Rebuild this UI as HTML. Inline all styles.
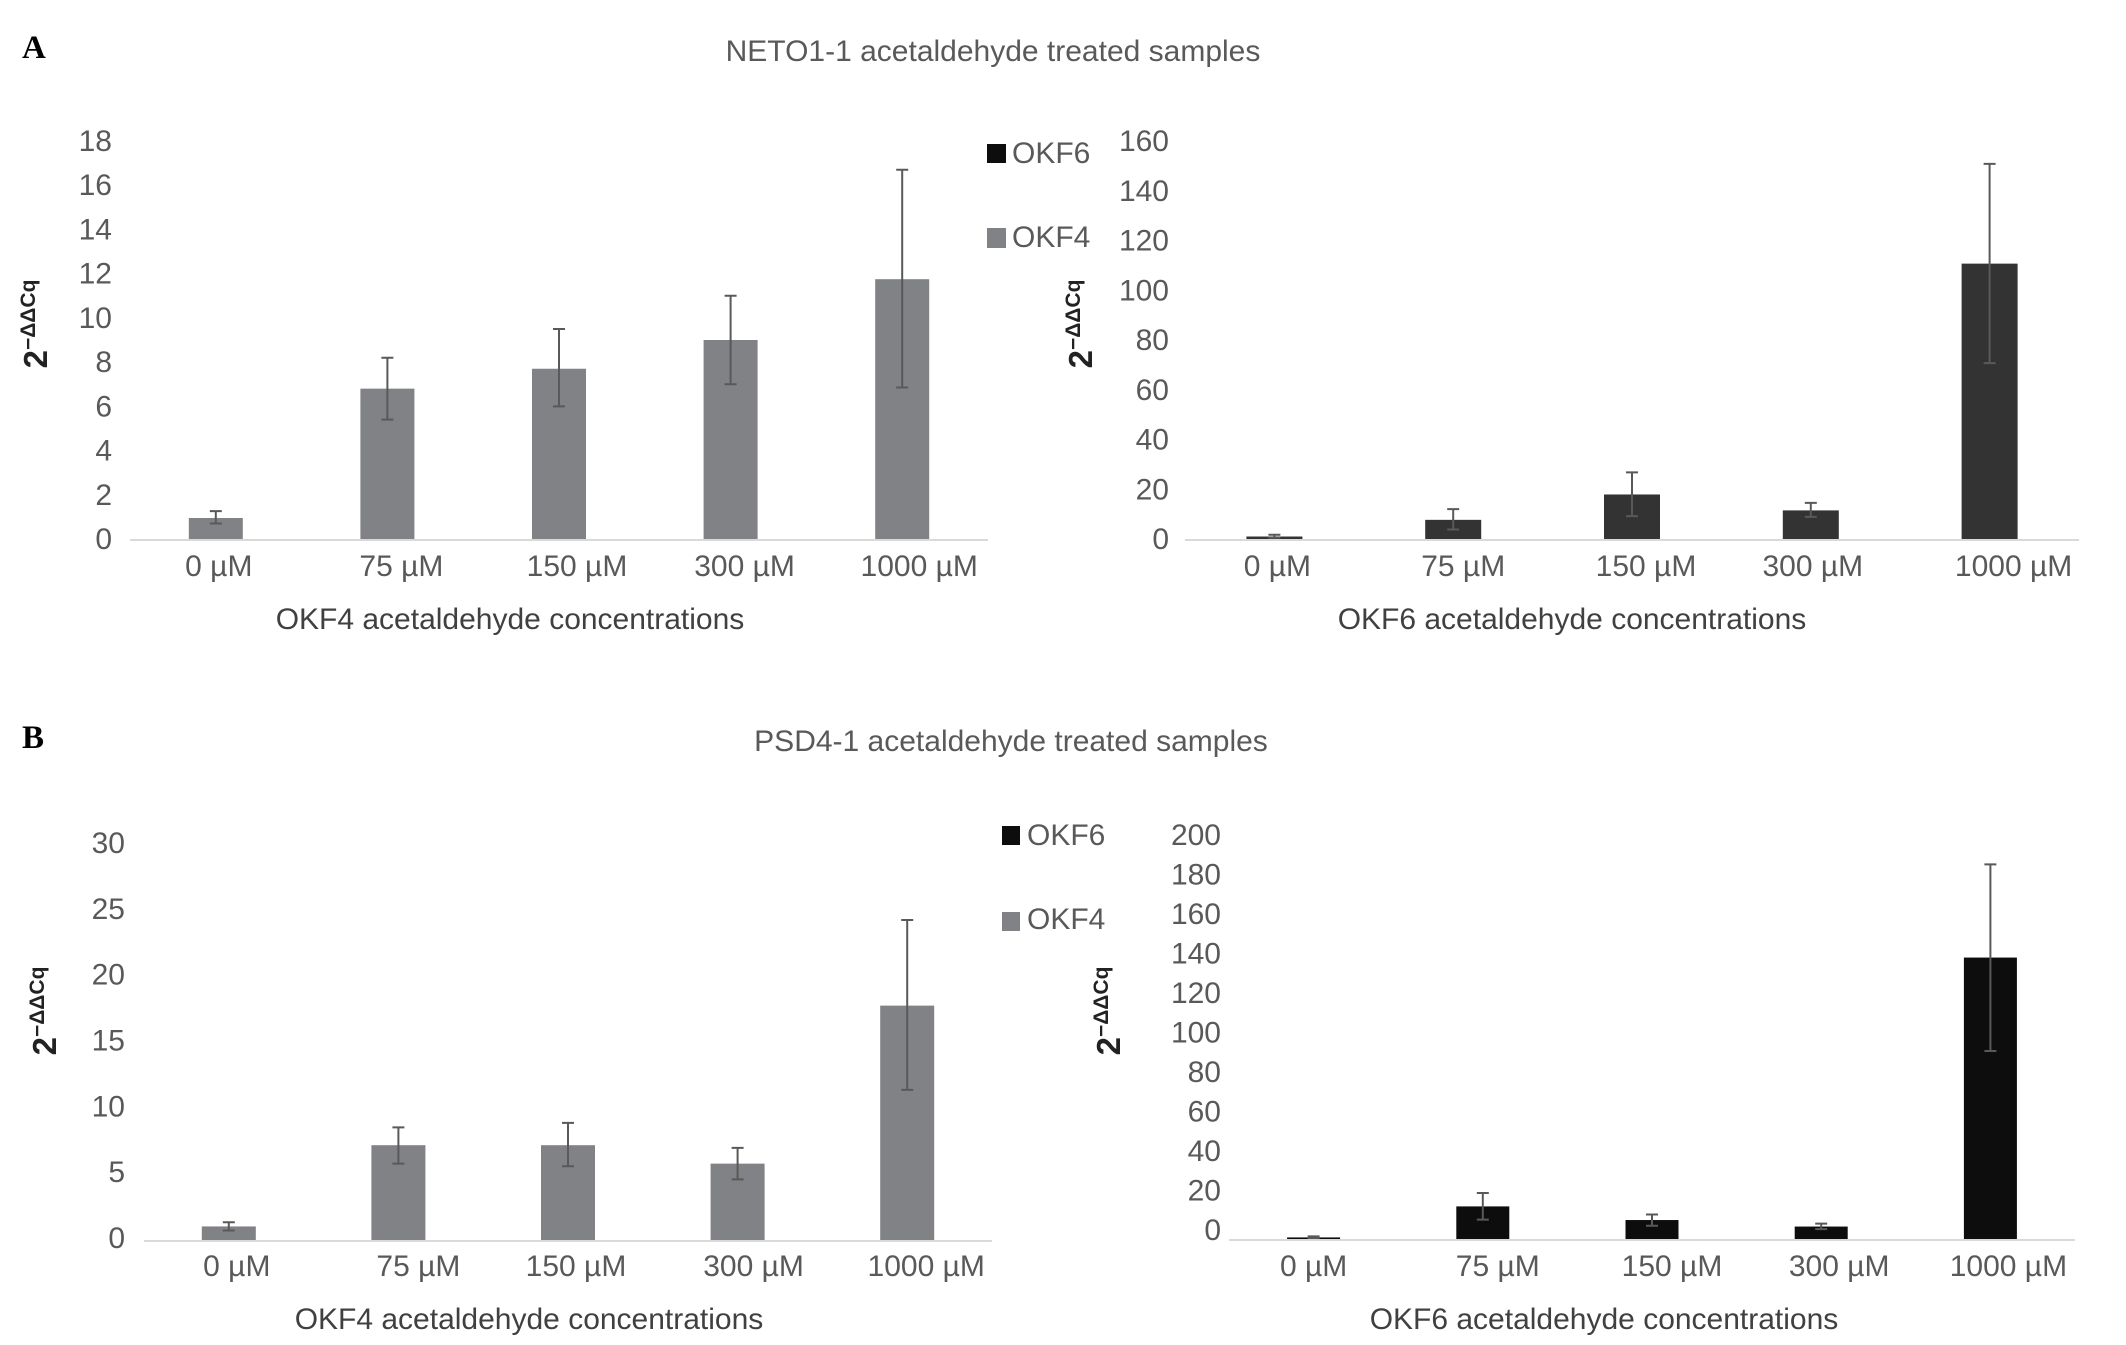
<!DOCTYPE html>
<html><head><meta charset="utf-8">
<style>
html,body{margin:0;padding:0;background:#fff;}
svg{display:block;font-family:"Liberation Sans",Arial,sans-serif;}
</style></head>
<body>
<svg id="fig" width="2126" height="1345" viewBox="0 0 2126 1345">
  <text x="22" y="58" font-family="Liberation Serif" font-weight="bold" font-size="33" fill="#000">A</text>
  <text x="993" y="61" text-anchor="middle" font-size="30" fill="#595959">NETO1-1 acetaldehyde treated samples</text>
  <text x="22" y="748" font-family="Liberation Serif" font-weight="bold" font-size="33" fill="#000">B</text>
  <text x="1011" y="761" text-anchor="middle" font-size="30" fill="#595959" transform="translate(0,-10)">PSD4-1 acetaldehyde treated samples</text>

  <g>
    <rect x="987" y="144" width="19" height="19" fill="#0d0d0d"/>
    <text x="1012" y="163" font-size="30" fill="#595959">OKF6</text>
    <rect x="987" y="228" width="19" height="20" fill="#808285"/>
    <text x="1012" y="247" font-size="30" fill="#595959">OKF4</text>
  </g>
  <g>
    <rect x="1002" y="826" width="18" height="19" fill="#0d0d0d"/>
    <text x="1027" y="845" font-size="30" fill="#595959">OKF6</text>
    <rect x="1002" y="912" width="18" height="19" fill="#808285"/>
    <text x="1027" y="929" font-size="30" fill="#595959">OKF4</text>
  </g>
</svg>
<script>
const categories = ["0 µM","75 µM","150 µM","300 µM","1000 µM"];

const aLeftValues = [0.95, 6.8, 7.7, 9.0, 11.75];
const aLeftErrHi  = [1.26, 8.2, 9.5, 11.0, 16.7];
const aLeftErrLo  = [0.7, 5.4, 6.0, 7.0, 6.85];
const aLeftTicks  = [0,2,4,6,8,10,12,14,16,18];

const aRightValues = [1.0, 7.7, 17.9, 11.5, 110.7];
const aRightErrHi  = [1.7, 12, 26.8, 14.5, 150.8];
const aRightErrLo  = [0.5, 3.8, 9.2, 8.9, 70.7];
const aRightTicks  = [0,20,40,60,80,100,120,140,160];

const bLeftValues = [1.03, 7.2, 7.2, 5.8, 17.8];
const bLeftErrHi  = [1.35, 8.55, 8.9, 7.0, 24.3];
const bLeftErrLo  = [0.72, 5.8, 5.6, 4.6, 11.4];
const bLeftTicks  = [0,5,10,15,20,25,30];

const bRightValues = [0.8, 16.5, 9.6, 6.3, 142.5];
const bRightErrHi  = [1.3, 23.3, 12.4, 7.8, 189.7];
const bRightErrLo  = [0.4, 9.8, 6.7, 5.0, 95.2];
const bRightTicks  = [0,20,40,60,80,100,120,140,160,180,200];

const NS = "http://www.w3.org/2000/svg";
const svg = document.getElementById("fig");
function mk(tag, attrs, parent){ const e=document.createElementNS(NS,tag); for(const k in attrs) e.setAttribute(k,attrs[k]); (parent||svg).appendChild(e); return e; }

function drawChart(cfg){
  const g = mk("g",{});
  
  
  const yScale = v => cfg.base - v / cfg.max * (cfg.base - cfg.top);
  const n = categories.length;
  const step = (cfg.x1 - cfg.x0) / n;
  const xScale = i => cfg.x0 + step * (i + 0.5);
  cfg.ticks.forEach(t=>{
    const tx = mk("text",{x:cfg.labelRight, y:yScale(t)+10+cfg.labelOff, "text-anchor":"end", "font-size":30, fill:"#595959"}, g);
    tx.textContent = t;
    
    
  });
  cfg.values.forEach((v,i)=>{
    const cx = xScale(i);
    const r = mk("rect",{x:cx-cfg.bw/2, y:yScale(v), width:cfg.bw, height:cfg.base-yScale(v), fill:cfg.color}, g);
    
    
    const hi = yScale(cfg.hi[i]), lo = yScale(cfg.lo[i]);
    const e = mk("path",{d:`M${cx},${hi}V${lo}M${cx-6},${hi}H${cx+6}M${cx-6},${lo}H${cx+6}`, stroke:"#595959", "stroke-width":2, fill:"none"}, g);
    
    
    const lb = mk("text",{x:cx + cfg.labelDx[i], y:cfg.catY+10, "text-anchor":"middle", "font-size":30, fill:"#595959"}, g);
    lb.textContent = categories[i];
    
    
  });
  const ax = mk("line",{x1:cfg.x0, x2:cfg.x1, y1:cfg.base+1, y2:cfg.base+1, stroke:"#d9d9d9", "stroke-width":2}, g);
  
  
  const xt = mk("text",{x:cfg.xTitleX, y:cfg.xTitleY+10, "text-anchor":"middle", "font-size":30, fill:"#404040"}, g);
  xt.textContent = cfg.xTitle;
  
  
  const yt = mk("text",{transform:`translate(${cfg.yTitleX},${cfg.yTitleY}) rotate(-90)`, "text-anchor":"middle", fill:"#222", "font-weight":"bold"}, g);
  
  
  const t1 = mk("tspan",{"font-size":33}, yt); t1.textContent = "2";
  const t2 = mk("tspan",{"font-size":21, dy:-12}, yt); t2.textContent = "−ΔΔCq";
}

drawChart({id:"chart-a-okf4", values:aLeftValues, hi:aLeftErrHi, lo:aLeftErrLo, ticks:aLeftTicks, max:18,
  base:539, top:141, x0:130, x1:988, bw:54, color:"#808285", labelRight:112, labelOff:0, catY:566, labelDx:[3,14,18,14,17],
  xTitle:"OKF4 acetaldehyde concentrations", xTitleX:510, xTitleY:619, yTitleX:47, yTitleY:324});
drawChart({id:"chart-a-okf6", values:aRightValues, hi:aRightErrHi, lo:aRightErrLo, ticks:aRightTicks, max:160,
  base:539, top:141, x0:1185, x1:2079, bw:56, color:"#333333", labelRight:1169, labelOff:0, catY:566, labelDx:[3,10,14,2,24],
  xTitle:"OKF6 acetaldehyde concentrations", xTitleX:1572, xTitleY:619, yTitleX:1092, yTitleY:324});
drawChart({id:"chart-b-okf4", values:bLeftValues, hi:bLeftErrHi, lo:bLeftErrLo, ticks:bLeftTicks, max:30,
  base:1240, top:845, x0:144, x1:992, bw:54, color:"#808285", labelRight:125, labelOff:-2, catY:1266, labelDx:[8,20,8,16,19],
  xTitle:"OKF4 acetaldehyde concentrations", xTitleX:529, xTitleY:1319, yTitleX:56, yTitleY:1011});
drawChart({id:"chart-b-okf6", values:bRightValues, hi:bRightErrHi, lo:bRightErrLo, ticks:bRightTicks, max:200,
  base:1239, top:844, x0:1229, x1:2075, bw:53, color:"#0d0d0d", labelRight:1221, labelOff:-9, catY:1266, labelDx:[0,15,20,18,18],
  xTitle:"OKF6 acetaldehyde concentrations", xTitleX:1604, xTitleY:1319, yTitleX:1120, yTitleY:1011});
</script>
</body></html>
